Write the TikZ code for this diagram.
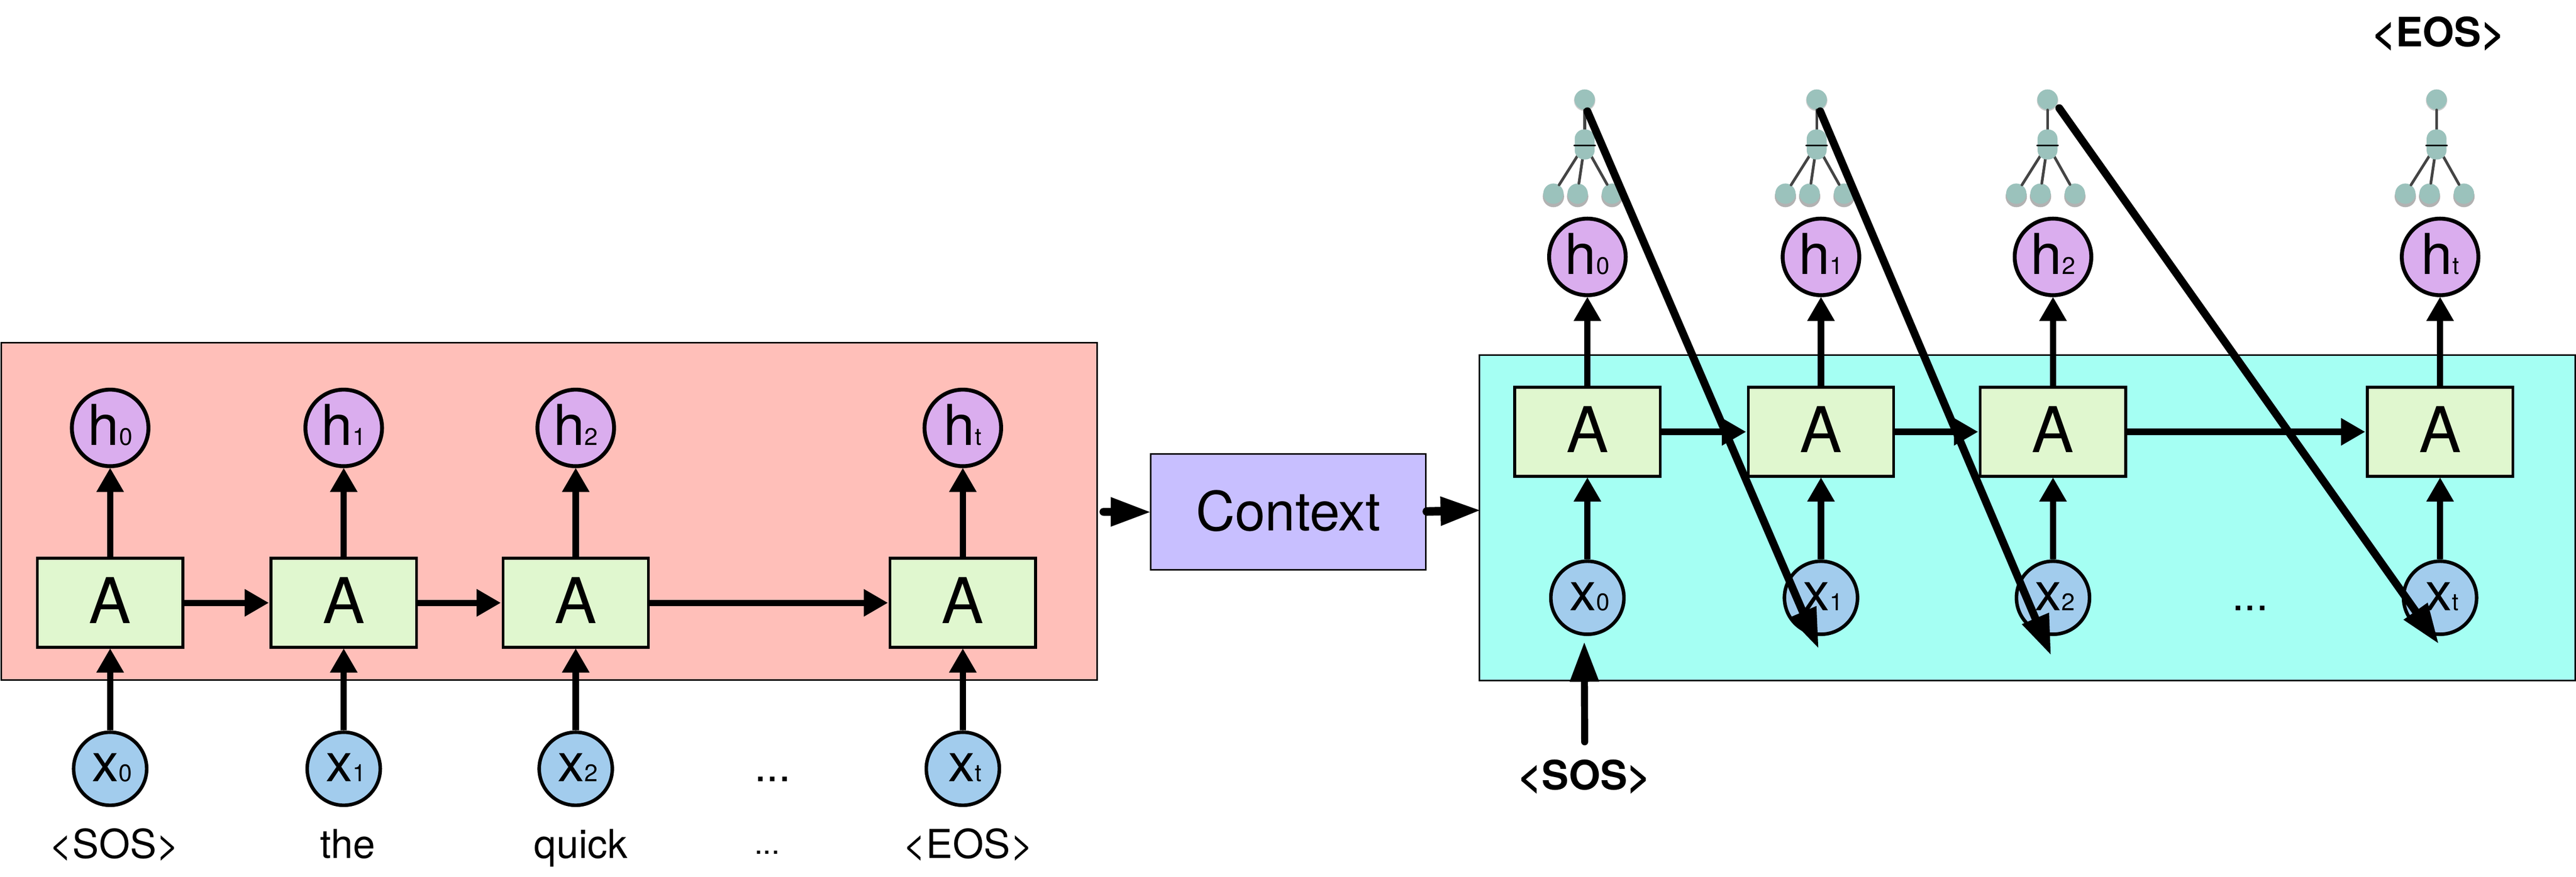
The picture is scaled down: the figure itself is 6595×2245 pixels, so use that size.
\documentclass[tikz,border=0pt]{standalone}
\usepackage{fontspec}
\setmainfont{TeX Gyre Heros}
\usetikzlibrary{arrows.meta,shadows}
\definecolor{salmonbg}{HTML}{FFBFB9}
\definecolor{cyanbg}{HTML}{A5FFF3}
\definecolor{cellgreen}{HTML}{E0F7CF}
\definecolor{hpurple}{HTML}{DAADEE}
\definecolor{xblue}{HTML}{A2CCED}
\definecolor{ctxviolet}{HTML}{C8BFFF}
\definecolor{treeteal}{HTML}{9BC2BC}
\definecolor{treeline}{HTML}{444444}
\newcommand{\bigsub}[3]{{\fontsize{#1}{#1}\selectfont #2}{\fontsize{17.5}{17.5}\selectfont #3}}
\tikzset{
  panel/.style={draw=black,line width=.04cm,inner sep=0pt},
  cell/.style={draw=black,fill=cellgreen,line width=.07cm,minimum width=3.72cm,minimum height=2.28cm,inner sep=0pt,text height=32.4pt,text depth=2.3pt,font=\fontsize{46}{46}\selectfont},
  hnode/.style={circle,draw=black,fill=hpurple,line width=.10cm,minimum size=1.96cm,inner sep=0pt,text height=28.6pt,text depth=3.1pt},
  xnode/.style={circle,draw=black,fill=xblue,line width=.09cm,minimum size=1.87cm,inner sep=0pt,text height=25pt,text depth=6.2pt},
  ctxnode/.style={draw=black,fill=ctxviolet,line width=.04cm,minimum width=7.04cm,minimum height=2.97cm,inner sep=0pt,text height=27pt,text depth=0pt,font=\fontsize{39.5}{39.5}\selectfont},
  lbl/.style={anchor=base,inner sep=0pt,font=\fontsize{29}{29}\selectfont},
  blbl/.style={anchor=base,inner sep=0pt,font=\fontsize{29.5}{29.5}\selectfont\bfseries},
  dots/.style={anchor=base,inner sep=0pt,font=\fontsize{32}{32}\selectfont},
  dotssmall/.style={anchor=base,inner sep=0pt,font=\fontsize{22.5}{22.5}\selectfont},
  arr/.style={line width=.16cm,-{Triangle[length=.61cm,width=.71cm,line width=0pt]}},
  heavy/.style={line width=#1,line cap=round,-{Triangle[length=1cm,width=.76cm,line width=0pt]}},
  treedot/.style={circle,fill=treeteal,minimum size=.52cm,inner sep=0pt},
  treeleaf/.style={treedot,drop shadow={shadow xshift=0cm,shadow yshift=-.07cm,shadow scale=1.05,fill=black,opacity=.3}},
  treeroot/.style={treedot,drop shadow={shadow xshift=0cm,shadow yshift=-.02cm,shadow scale=1.05,fill=black,opacity=.2}},
  treemid/.style={fill=treeteal,minimum width=.51cm,minimum height=.77cm,inner sep=0pt,rounded corners=.24cm},
  treeedge/.style={draw=treeline,line width=.07cm,line cap=round},
  treebar/.style={draw=black,line width=.04cm,line cap=round},
}
\begin{document}
\begin{tikzpicture}[x=.01cm,y=-.01cm]
\useasboundingbox (0,0) rectangle (6595,2245);
% panels
\node[panel,fill=salmonbg,minimum width=28.04cm,minimum height=8.64cm] (enc) at (1406,1310) {};
\node[panel,fill=cyanbg,minimum width=28.04cm,minimum height=8.33cm] (dec) at (5190,1326.5) {};
\node[ctxnode] (ctx) at (3298,1311.5) {Context};
% encoder cells
\foreach \i/\x/\s in {0/282/0,1/880/1,2/1474/2,3/2465/t}{
  \node[cell] (lA\i) at (\x,1544) {A};
  \node[hnode] (lh\i) at (\x,1096) {\bigsub{41}{h}{\s}};
  \node[xnode] (lx\i) at (\x,1969) {\hspace{3pt}\bigsub{39}{x}{\s}};
  \draw[arr] (lA\i) -- (lh\i);
  \draw[arr] (lx\i) -- (lA\i);
}
\foreach \a/\b in {0/1,1/2,2/3}{\draw[arr,shorten >=.03cm] (lA\a) -- (lA\b);}
% decoder cells
\foreach \i/\x/\s in {0/4064/0,1/4662/1,2/5256/2,3/6247/t}{
  \node[cell] (rA\i) at (\x,1106) {A};
  \node[hnode] (rh\i) at (\x,658) {\bigsub{41}{h}{\s}};
  \node[xnode] (rx\i) at (\x,1531) {\hspace{3pt}\bigsub{39}{x}{\s}};
  \draw[arr] (rA\i) -- (rh\i);
  \draw[arr] (rx\i) -- (rA\i);
}
\foreach \a/\b in {0/1,1/2,2/3}{\draw[arr,shorten >=.03cm] (rA\a) -- (rA\b);}
% token trees
\foreach \i/\x in {0/4057,1/4651,2/5242,3/6238}{
  \node[treeroot] (tt\i) at (\x,255) {};
  \node[treeleaf] (ta\i) at ({\x-80},496) {};
  \node[treeleaf] (tb\i) at ({\x-18},496) {};
  \node[treeleaf] (tc\i) at ({\x+70},496) {};
  \coordinate (tm\i) at (\x,370);
  \draw[treeedge] (tm\i) -- (tt\i.south);
  \draw[treeedge] (tm\i) -- (ta\i.57);
  \draw[treeedge] (tm\i) -- (tb\i.83);
  \draw[treeedge] (tm\i) -- (tc\i.118);
  \node[treemid] (tn\i) at (tm\i) {};
  \draw[treebar] ([xshift=-.27cm,yshift=-.02cm]tn\i.center) -- ([xshift=.27cm,yshift=-.02cm]tn\i.center);
}
% texts
\node[lbl] (t0) at (293,2198) {<SOS>};
\node[lbl] (t1) at (890,2198) {the};
\node[lbl] (t2) at (1487,2198) {quick};
\node[dotssmall] (t3) at (1964,2188) {...};
\node[lbl] (t4) at (2479,2198) {<EOS>};
\node[dots] (d1) at (1978,2002) {...};
\node[dots] (d2) at (5761,1564) {...};
\node[blbl] (sos) at (4057,2023) {<SOS>};
\node[blbl] (eos) at (6243,119) {<EOS>};
% context flow
\coordinate (cs) at (2825,1311);
\draw[heavy=.20cm] (cs) -- (ctx.west);
\coordinate (ds) at (3653,1310);
\coordinate (de) at (3788,1307);
\draw[heavy=.22cm] (ds) -- (de);
\coordinate (ss) at (4057,1900);
\coordinate (se) at (4056,1646);
\draw[heavy=.18cm] (ss) -- (se);
% feedback arrows
\coordinate (f0s) at (4064,285);
\coordinate (f0e) at (4655,1659);
\coordinate (f1s) at (4660,285);
\coordinate (f1e) at (5250,1676);
\coordinate (f2s) at (5272,277);
\coordinate (f2e) at (6242,1647);
\draw[heavy=.20cm] (f0s) -- (f0e);
\draw[heavy=.20cm] (f1s) -- (f1e);
\draw[heavy=.20cm] (f2s) -- (f2e);
\end{tikzpicture}
\end{document}
